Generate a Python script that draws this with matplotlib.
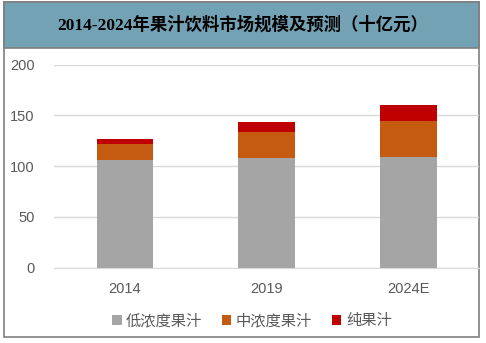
import matplotlib
matplotlib.use("Agg")
import matplotlib.pyplot as plt
from matplotlib.patches import Rectangle
import numpy as np

plt.rcParams['font.family'] = ['Noto Sans CJK SC', 'DejaVu Sans']

# market size, 10^9 yuan
years = ["2014", "2019", "2024E"]
low_juice = [106, 108, 109]
mid_juice = [16, 26, 35.5]
pure_juice = [5, 10, 16]
series_names = ["低浓度果汁", "中浓度果汁", "纯果汁"]
colors = ["#A5A5A5", "#C55A11", "#C00000"]

W, H = 486, 343
fig = plt.figure(figsize=(W / 100, H / 100), dpi=100)

# outer frame and title banner
fig.patches.append(Rectangle((4 / W, 6 / H), 475 / W, 335 / H, transform=fig.transFigure,
                             facecolor="white", edgecolor="#7F7F7F", linewidth=1.2, zorder=0))
fig.patches.append(Rectangle((4 / W, 295 / H), 475 / W, 46 / H, transform=fig.transFigure,
                             facecolor="#73A2B5", edgecolor="#7F7F7F", linewidth=1.2, zorder=0))
fig.text(243 / W, 318 / H, "2014-2024年果汁饮料市场规模及预测（十亿元）",
         ha="center", va="center", fontsize=12.5, fontweight="bold", color="black",
         family=["Liberation Serif", "Noto Sans CJK SC"])

ax = fig.add_axes([54 / W, 75.3 / H, 425 / W, 203 / H])
ax.set_zorder(2)
ax.patch.set_visible(False)
x = np.arange(len(years))
w = 0.4
b1 = ax.bar(x, low_juice, w, color=colors[0], label=series_names[0], zorder=3)
b2 = ax.bar(x, mid_juice, w, bottom=low_juice, color=colors[1], label=series_names[1], zorder=3)
bottom2 = np.array(low_juice) + np.array(mid_juice)
b3 = ax.bar(x, pure_juice, w, bottom=bottom2, color=colors[2], label=series_names[2], zorder=3)

ax.set_xlim(-0.5, 2.5)
ax.set_ylim(0, 200)
ax.set_yticks([0, 50, 100, 150, 200])
ax.set_xticks(x)
ax.set_xticklabels(years)
ax.grid(axis="y", color="#D9D9D9", linewidth=1, zorder=0)
for s in ["top", "right", "left"]:
    ax.spines[s].set_visible(False)
ax.spines["bottom"].set_color("#D9D9D9")
ax.tick_params(axis="both", length=0, colors="#595959", labelsize=10.5)
ax.tick_params(axis="y", pad=14)
ax.tick_params(axis="x", pad=10)
for lbl in ax.get_xticklabels() + ax.get_yticklabels():
    lbl.set_family("Liberation Sans")

fig.legend(handles=[b1, b2, b3], labels=series_names, loc="center",
           bbox_to_anchor=(252 / W, 22 / H), ncol=3, frameon=False,
           fontsize=11, handlelength=0.6, handleheight=0.6, handletextpad=0.3,
           columnspacing=1.3, labelcolor="#595959")

fig.savefig("out.png", dpi=100)
